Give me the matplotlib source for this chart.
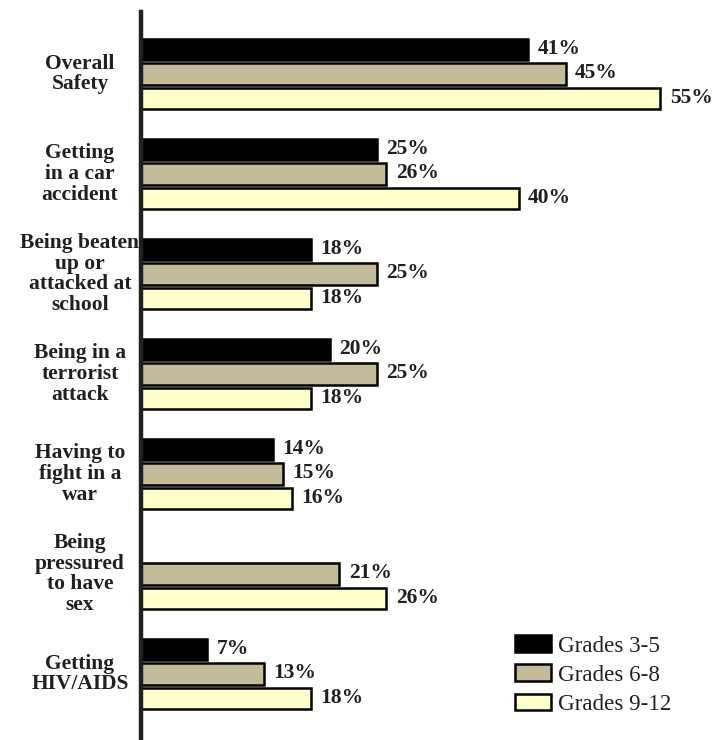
import matplotlib
matplotlib.use("Agg")
import matplotlib.pyplot as plt
import numpy as np
from matplotlib.patches import Patch

categories = ["Overall\nSafety", "Getting\nin a car\naccident", "Being beaten\nup or\nattacked at\nschool",
              "Being in a\nterrorist\nattack", "Having to\nfight in a\nwar", "Being\npressured\nto have\nsex",
              "Getting\nHIV/AIDS"]
grades_3_5 = [41, 25, 18, 20, 14, np.nan, 7]
grades_6_8 = [45, 26, 25, 25, 15, 21, 13]
grades_9_12 = [55, 40, 18, 18, 16, 26, 18]
series_names = ["Grades 3-5", "Grades 6-8", "Grades 9-12"]
colors = ["#000000", "#C4BC98", "#FFFFCC"]

serif = ["Liberation Serif", "DejaVu Serif"]

W, H = 722, 740
fig = plt.figure(figsize=(W / 100, H / 100), dpi=100)
ax_left, ax_right = 141, 707
ax_top, ax_bot = 12, 740
ax = fig.add_axes([ax_left / W, 1 - ax_bot / H, (ax_right - ax_left) / W, (ax_bot - ax_top) / H])

x_max = (ax_right - ax_left) / 9.44
ax.set_xlim(0, x_max)
ax.set_ylim(6.66, -0.62)

offsets = [-0.245, 0.0, 0.245]
bar_h = 0.215
idx = np.arange(len(categories))
for s, (vals, col, off) in enumerate(zip([grades_3_5, grades_6_8, grades_9_12], colors, offsets)):
    vals = np.array(vals, dtype=float)
    mask = ~np.isnan(vals)
    ax.barh(idx[mask] + off, vals[mask], height=bar_h, color=col, edgecolor="#000000", linewidth=1.8, zorder=2)
    for i, v in zip(idx[mask], vals[mask]):
        ax.text(v + 1.0, i + off - 0.01, f"{int(v)}%", ha="left", va="center", fontsize=15.5,
                fontweight="bold", family=serif, color="#231f20")

for i, cat in enumerate(categories):
    ax.text(-61 / 9.44, i, cat, ha="center", va="center", multialignment="center", fontsize=15.5,
            fontweight="bold", family=serif, color="#231f20", linespacing=1.05)

for sp in ["top", "right", "bottom"]:
    ax.spines[sp].set_visible(False)
ax.spines["left"].set_linewidth(3.2)
ax.spines["left"].set_color("#231f20")
ax.set_xticks([])
ax.set_yticks([])

handles = [Patch(facecolor=c, edgecolor="#000000", linewidth=1.8) for c in colors]
leg = fig.legend(handles, series_names, loc="lower left", bbox_to_anchor=(499 / W, 1 - 731 / H),
                 frameon=False, prop={"family": serif, "size": 16.6}, handlelength=1.55, handleheight=0.72,
                 labelspacing=0.34, handletextpad=0.33, borderpad=0.2)
for t in leg.get_texts():
    t.set_color("#231f20")

fig.savefig("out.png", dpi=100)
